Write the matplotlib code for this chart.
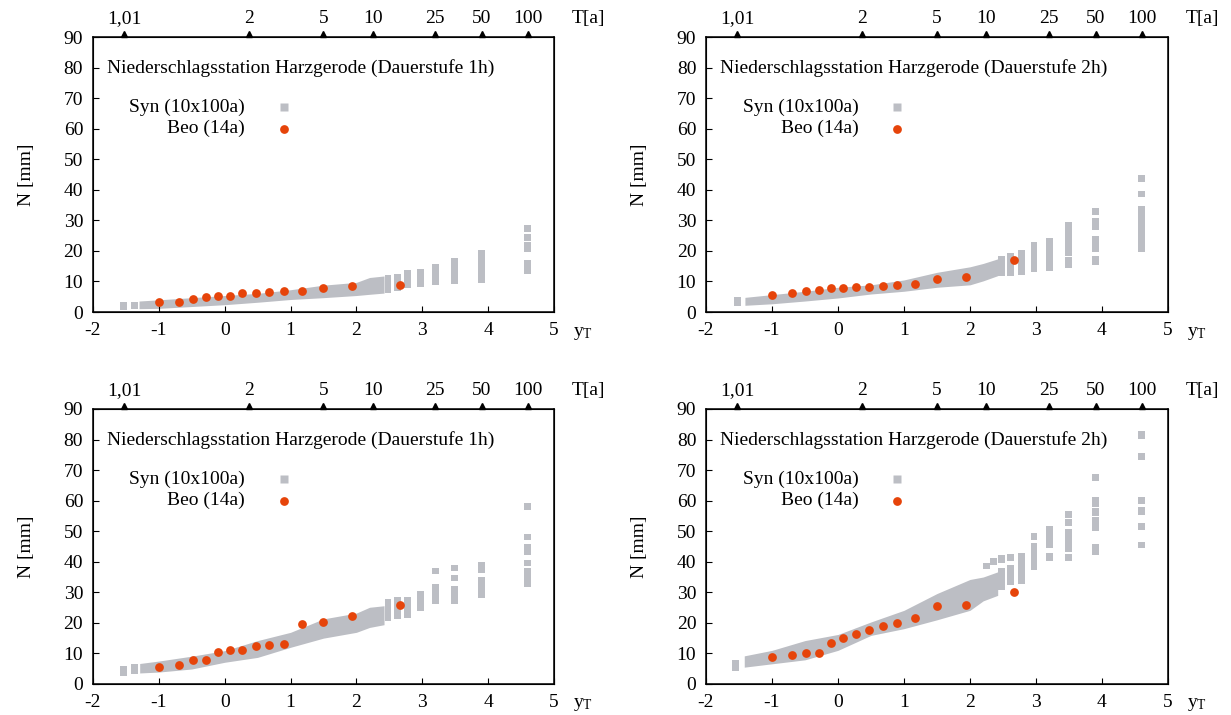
import numpy as np
import matplotlib
matplotlib.use("Agg")
import matplotlib.pyplot as plt
from matplotlib import transforms

plt.rcParams['font.family'] = ['Liberation Serif', 'DejaVu Serif']
plt.rcParams['mathtext.fontset'] = 'custom'
plt.rcParams['mathtext.rm'] = 'Liberation Serif'
plt.rcParams['mathtext.it'] = 'Liberation Serif:italic'
plt.rcParams['font.size'] = 14

SYN_COLOR = '#BCBEC4'
BEO_COLOR = '#E6440A'

# return periods shown on the top axis
T_ticks = [1.01, 2, 5, 10, 25, 50, 100]
T_labels = ['1,01', '2', '5', '10', '25', '50', '100']

# reduced variate of the 14 observed annual maxima
x_beo = [-1.00, -0.70, -0.48, -0.28, -0.10, 0.08, 0.27, 0.47, 0.68, 0.90, 1.17, 1.50, 1.94, 2.67]

# observed maxima [mm]
beo_1h_top = [3.3, 3.4, 4.3, 4.8, 5.1, 5.3, 6.1, 6.1, 6.4, 6.9, 7.0, 7.9, 8.6, 8.8]
beo_2h_top = [5.6, 6.2, 6.9, 7.2, 8.0, 8.0, 8.2, 8.3, 8.4, 9.0, 9.3, 10.8, 11.4, 17.1]
beo_1h_bot = [5.6, 6.2, 7.7, 7.9, 10.3, 11.1, 11.2, 12.4, 12.7, 13.2, 19.5, 20.2, 22.2, 25.7]
beo_2h_bot = [8.8, 9.5, 10.1, 10.2, 13.5, 15.1, 16.2, 17.6, 19.1, 19.8, 21.5, 25.6, 25.7, 30.2]

# synthetic series: dense part as band (x, lower, upper)
syn_1h_top_x = [-1.30, -1.0, -0.5, 0.0, 0.5, 1.0, 1.5, 2.0, 2.2, 2.42]
syn_1h_top_lo = [1.1, 1.2, 1.8, 2.4, 3.2, 4.1, 4.7, 5.4, 5.8, 6.2]
syn_1h_top_hi = [3.6, 4.0, 4.7, 5.4, 6.1, 7.3, 8.8, 9.7, 11.3, 11.8]
# single ranks drawn as columns: x and (lower, upper) pieces
syn_1h_top_cx = [-1.53, -1.37, 2.48, 2.62, 2.78, 2.97, 3.20, 3.49, 3.90, 4.60]
syn_1h_top_cs = [[(0.7, 3.2)], [(1.0, 3.3)], [(6.3, 12.1)], [(7.0, 12.4)], [(8.0, 13.7)],
                 [(8.2, 14.0)], [(9.0, 15.6)], [(9.2, 17.7)], [(9.5, 20.3)],
                 [(12.5, 17.0), (19.7, 22.9), (23.3, 25.5), (26.3, 28.5)]]

syn_2h_top_x = [-1.41, -1.0, -0.5, 0.0, 0.5, 1.0, 1.5, 2.0, 2.2, 2.42]
syn_2h_top_lo = [2.2, 2.7, 3.6, 4.6, 5.9, 6.8, 8.1, 8.9, 10.2, 11.9]
syn_2h_top_hi = [4.8, 5.7, 6.8, 8.1, 8.9, 10.5, 13.0, 14.8, 15.9, 17.4]
syn_2h_top_cx = [-1.52, 2.48, 2.62, 2.78, 2.97, 3.20, 3.49, 3.90, 4.60]
syn_2h_top_cs = [[(1.9, 5.0)], [(11.7, 18.4)], [(11.9, 19.2)], [(12.2, 20.4)], [(13.2, 22.8)],
                 [(13.5, 24.3)], [(14.5, 18.0), (18.4, 29.5)],
                 [(15.5, 18.3), (19.7, 24.8), (26.7, 30.7), (31.8, 34.1)],
                 [(19.7, 34.7), (37.5, 39.7), (42.6, 44.9)]]

syn_1h_bot_x = [-1.29, -1.0, -0.5, 0.0, 0.5, 1.0, 1.5, 2.0, 2.2, 2.42]
syn_1h_bot_lo = [3.6, 3.9, 4.9, 7.1, 8.7, 12.0, 15.0, 16.9, 18.5, 19.4]
syn_1h_bot_hi = [6.7, 7.5, 9.1, 10.9, 14.2, 16.9, 21.3, 23.2, 25.1, 25.6]
syn_1h_bot_cx = [-1.53, -1.37, 2.48, 2.62, 2.78, 2.97, 3.20, 3.49, 3.90, 4.60]
syn_1h_bot_cs = [[(2.5, 6.0)], [(3.3, 6.4)], [(20.5, 27.8)], [(21.2, 28.4)], [(21.5, 28.6)],
                 [(23.8, 30.5)], [(26.1, 32.8), (35.9, 38.0)],
                 [(26.1, 32.2), (33.6, 35.7), (36.9, 39.0)],
                 [(28.0, 35.1), (36.2, 40.0)],
                 [(31.6, 37.9), (38.5, 40.7), (42.1, 45.9), (47.0, 49.2), (57.1, 59.2)]]

syn_2h_bot_x = [-1.42, -1.0, -0.5, 0.0, 0.5, 1.0, 1.5, 2.0, 2.2, 2.42]
syn_2h_bot_lo = [5.5, 6.6, 7.9, 11.0, 15.9, 18.1, 21.0, 24.1, 27.2, 29.0]
syn_2h_bot_hi = [9.2, 11.0, 14.2, 16.2, 20.3, 24.1, 29.6, 34.2, 35.0, 36.7]
syn_2h_bot_cx = [-1.55, 2.25, 2.36, 2.48, 2.62, 2.78, 2.97, 3.20, 3.49, 3.90, 4.60]
syn_2h_bot_cs = [[(4.2, 7.9)], [(37.5, 39.6)], [(38.9, 41.1)],
                 [(30.7, 37.8), (39.6, 42.2)], [(32.3, 38.9), (40.2, 42.7)],
                 [(32.6, 42.9)], [(37.2, 46.2), (47.1, 49.3)],
                 [(40.2, 42.9), (44.4, 51.7)],
                 [(40.2, 42.5), (43.3, 50.6), (51.7, 53.9), (54.2, 56.6)],
                 [(42.2, 45.8), (50.1, 54.6), (55.0, 57.7), (58.0, 61.3), (66.5, 68.7)],
                 [(44.4, 46.5), (50.4, 52.8), (55.3, 58.0), (58.9, 61.3), (73.4, 75.6), (80.3, 82.7)]]


def gumbel_y(T):
    T = np.asarray(T, dtype=float)
    return -np.log(-np.log(1.0 - 1.0 / T))


def draw_panel(ax, title, beo, bx, blo, bhi, cx, cs):
    ax.set_xlim(-2, 5)
    ax.set_ylim(0, 90)

    ax.fill_between(bx, blo, bhi, color=SYN_COLOR, lw=0, zorder=1)
    for x, pieces in zip(cx, cs):
        for lo, hi in pieces:
            ax.bar(x, hi - lo, bottom=lo, width=0.105, color=SYN_COLOR, lw=0, zorder=1)
    ax.plot(x_beo, beo, 'o', color=BEO_COLOR, ms=6.3, mec='none', zorder=3)

    ax.set_xticks(range(-2, 6))
    ax.set_xticklabels([str(v) for v in range(-2, 6)])
    ax.set_yticks(range(0, 91, 10))
    ax.tick_params(direction='in', length=4, width=0.8, top=False, right=False)
    ax.tick_params(axis='y', pad=7)
    ax.tick_params(axis='x', pad=7)
    for s in ax.spines.values():
        s.set_linewidth(1.1)
    ax.set_ylabel('N [mm]')
    ax.yaxis.set_label_coords(-0.125, 0.5)

    # return period axis on top
    top = ax.twiny()
    top.set_xlim(-2, 5)
    top.set_xticks(gumbel_y(T_ticks))
    top.set_xticklabels(T_labels)
    top.tick_params(axis='x', length=0, pad=7)
    tri = transforms.offset_copy(ax.transData, fig=ax.figure, x=0, y=2.2, units='points')
    ax.plot(gumbel_y(T_ticks), [90] * len(T_ticks), '^', color='black', ms=4,
            transform=tri, clip_on=False, zorder=5)
    ax.annotate('T[a]', xy=(1.0, 1.0), xycoords='axes fraction', xytext=(13, 7),
                textcoords='offset points', ha='left', va='bottom')
    ax.annotate(r'y$_{\mathrm{T}}$', xy=(1.0, 0.0), xycoords='axes fraction', xytext=(14, -9),
                textcoords='offset points', ha='left', va='top')

    # title and key inside the frame
    ax.text(0.030, 80, title, transform=ax.get_yaxis_transform(), ha='left', va='center')
    ax.text(0.330, 67, 'Syn (10x100a)', transform=ax.get_yaxis_transform(), ha='right', va='center')
    ax.text(0.330, 60, 'Beo (14a)', transform=ax.get_yaxis_transform(), ha='right', va='center')
    ax.plot([0.414], [67], 's', color=SYN_COLOR, ms=6, mec='none',
            transform=ax.get_yaxis_transform())
    ax.plot([0.414], [60], 'o', color=BEO_COLOR, ms=6.3, mec='none',
            transform=ax.get_yaxis_transform())


fig = plt.figure(figsize=(12.31, 7.15), dpi=100)
ax1 = fig.add_axes([0.0755, 0.5636, 0.3745, 0.3846])
ax2 = fig.add_axes([0.5735, 0.5636, 0.3753, 0.3846])
ax3 = fig.add_axes([0.0755, 0.0434, 0.3745, 0.3846])
ax4 = fig.add_axes([0.5735, 0.0434, 0.3753, 0.3846])

draw_panel(ax1, 'Niederschlagsstation Harzgerode (Dauerstufe 1h)', beo_1h_top,
           syn_1h_top_x, syn_1h_top_lo, syn_1h_top_hi, syn_1h_top_cx, syn_1h_top_cs)
draw_panel(ax2, 'Niederschlagsstation Harzgerode (Dauerstufe 2h)', beo_2h_top,
           syn_2h_top_x, syn_2h_top_lo, syn_2h_top_hi, syn_2h_top_cx, syn_2h_top_cs)
draw_panel(ax3, 'Niederschlagsstation Harzgerode (Dauerstufe 1h)', beo_1h_bot,
           syn_1h_bot_x, syn_1h_bot_lo, syn_1h_bot_hi, syn_1h_bot_cx, syn_1h_bot_cs)
draw_panel(ax4, 'Niederschlagsstation Harzgerode (Dauerstufe 2h)', beo_2h_bot,
           syn_2h_bot_x, syn_2h_bot_lo, syn_2h_bot_hi, syn_2h_bot_cx, syn_2h_bot_cs)

fig.savefig('out.png', dpi=100)
